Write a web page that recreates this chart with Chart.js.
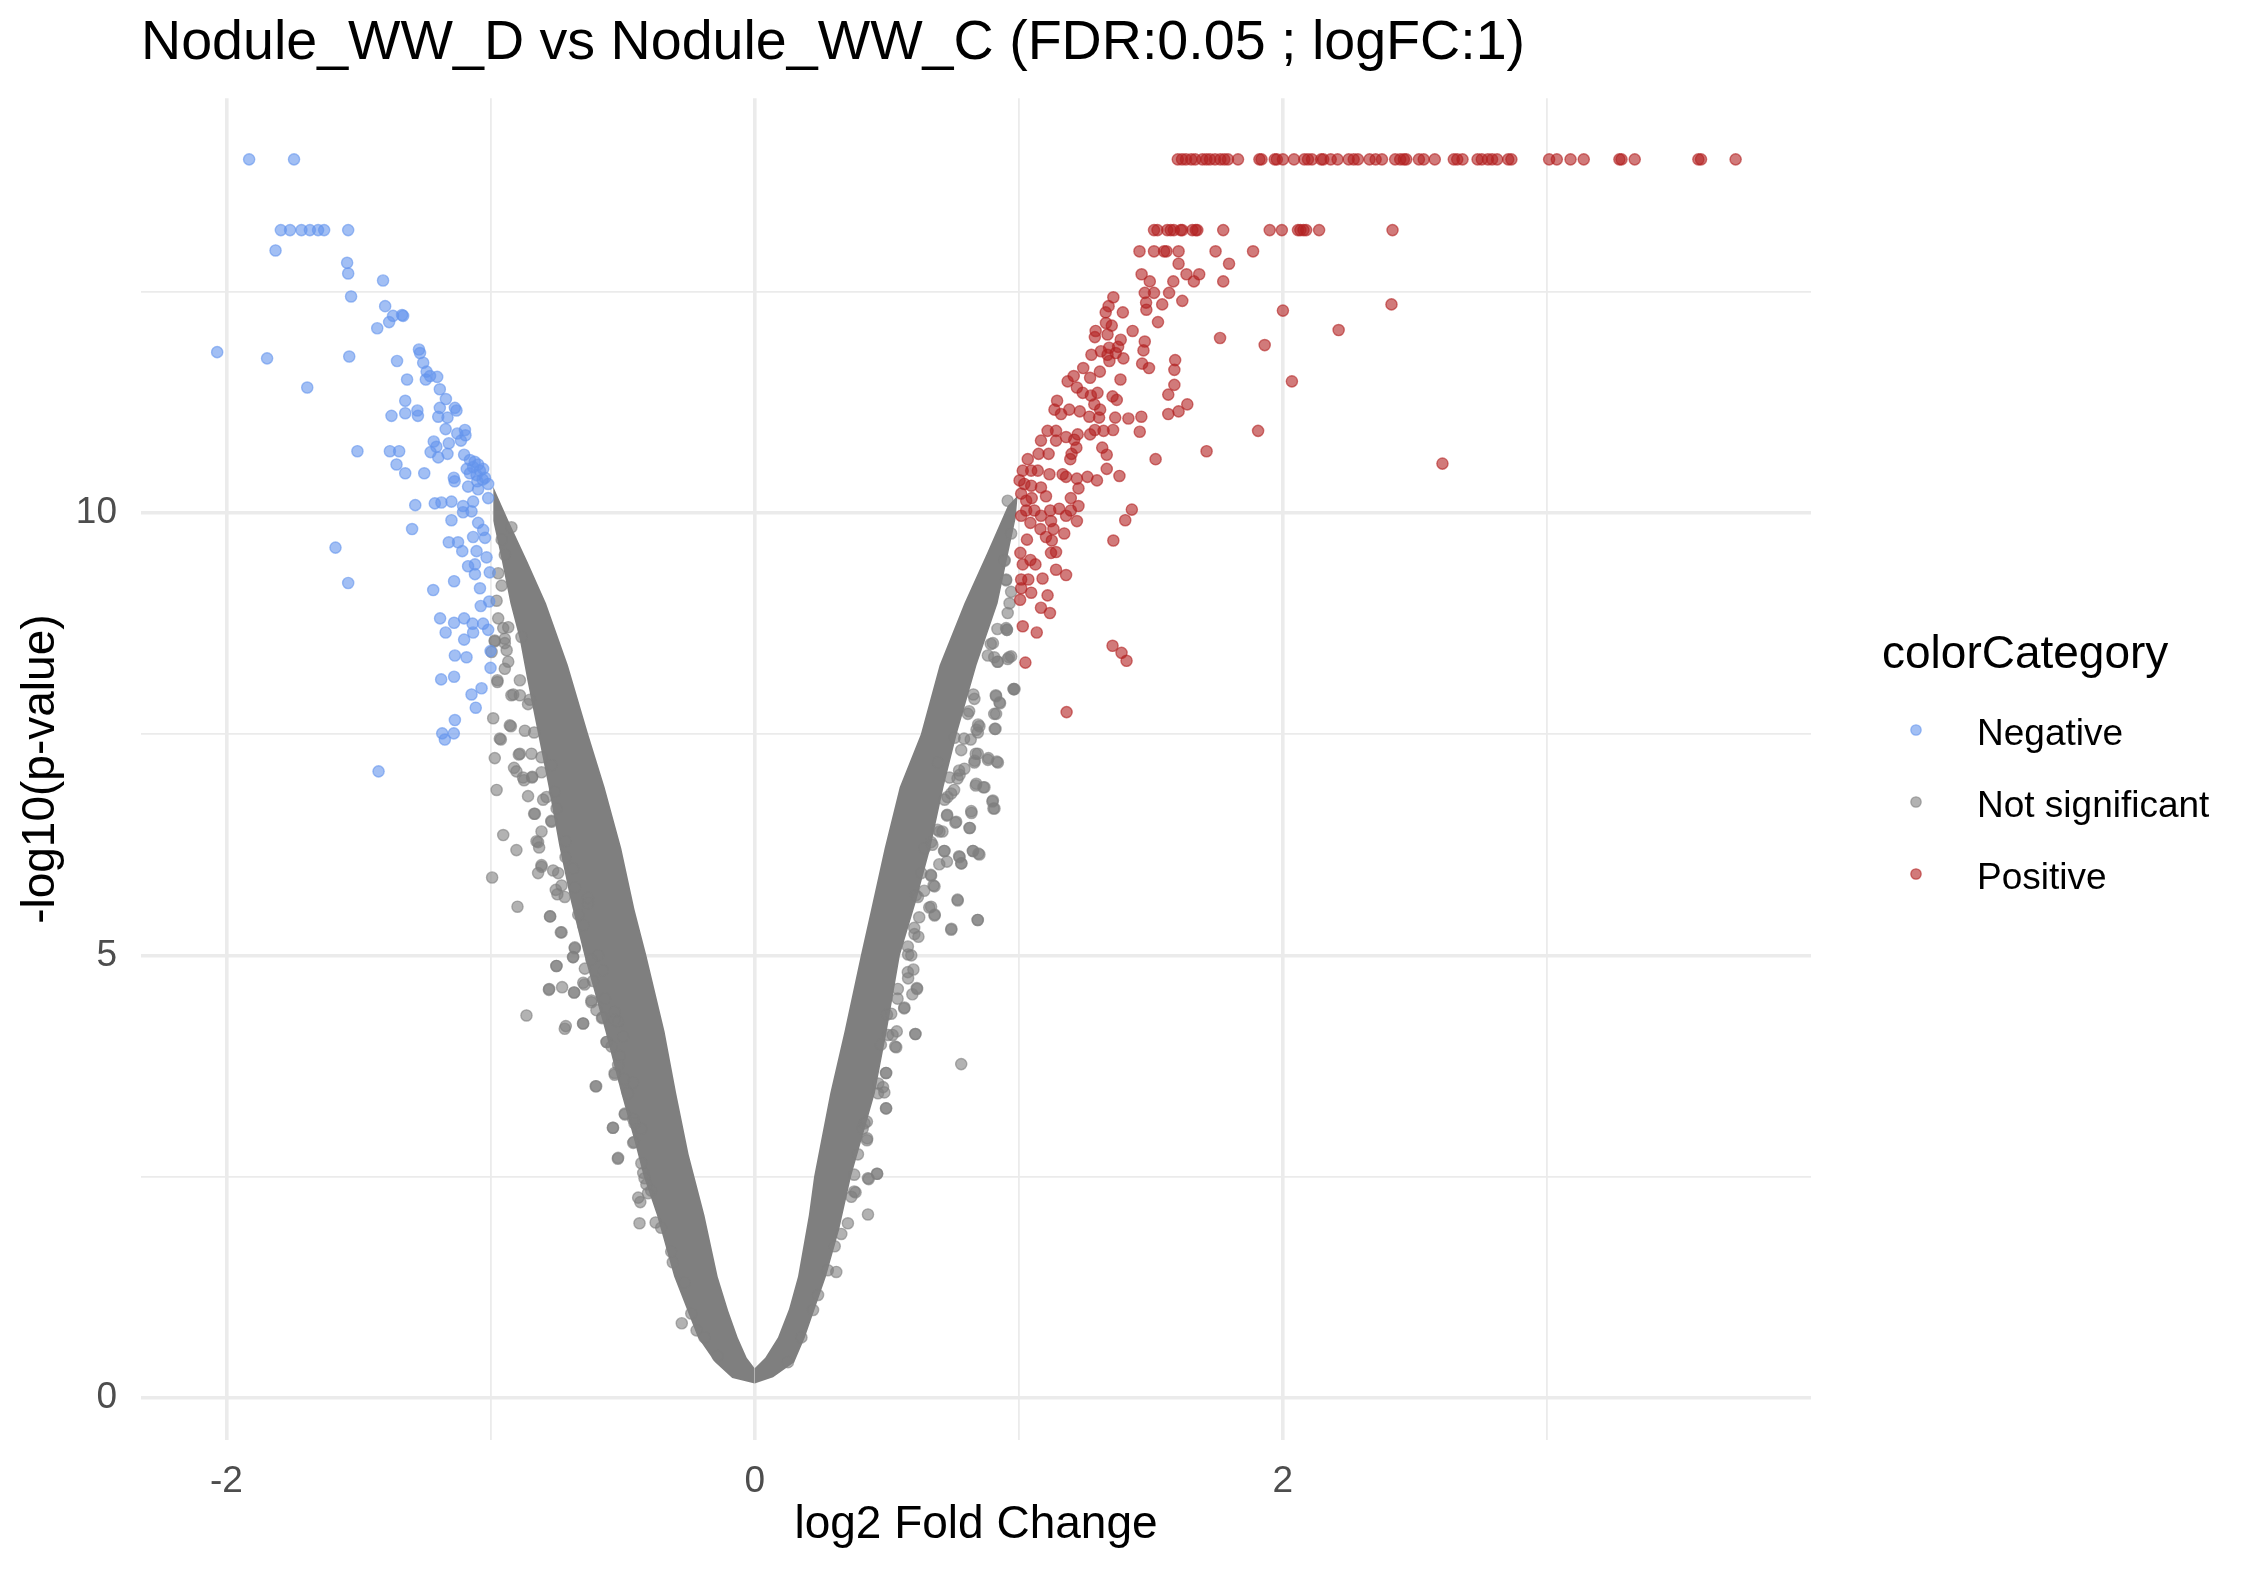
<!DOCTYPE html>
<html>
<head>
<meta charset="utf-8">
<script src="https://cdn.jsdelivr.net/npm/chart.js@4.4.1/dist/chart.umd.min.js"></script>
<style>
html,body{margin:0;padding:0;background:#ffffff;}
canvas{display:block;}
</style>
</head>
<body>
<canvas id="c" width="2250" height="1575"></canvas>
<script>
// ---------------- text ----------------
const titleText = 'Nodule_WW_D vs Nodule_WW_C (FDR:0.05 ; logFC:1)';
const xTitle = 'log2 Fold Change';
const yTitle = '-log10(p-value)';
const legendTitle = 'colorCategory';
const categories = ['Negative', 'Not significant', 'Positive'];

// ---------------- axes ----------------
const xLimits = [-2.3234, 3.9994];
const yLimits = [-0.48, 14.69];
const xMajorTicks = [-2, 0, 2];
const yMajorTicks = [0, 5, 10];

// ---------------- data: Negative (log2FC, -log10 p) ----------------
const negative = [
[-1.914,14.0],[-1.744,14.0],
[-1.794,13.2],[-1.759,13.2],[-1.716,13.2],[-1.684,13.2],[-1.653,13.2],[-1.630,13.2],[-1.539,13.2],
[-1.814,12.97],[-1.543,12.83],[-1.539,12.71],[-1.407,12.63],[-1.528,12.45],[-1.399,12.34],[-1.369,12.23],[-1.335,12.24],[-1.331,12.23],[-1.384,12.16],[-1.429,12.09],
[-2.035,11.82],[-1.846,11.75],[-1.535,11.77],[-1.694,11.42],
[-1.271,11.85],[-1.267,11.81],[-1.354,11.72],[-1.255,11.70],[-1.242,11.60],[-1.229,11.55],[-1.202,11.54],[-1.316,11.51],[-1.245,11.51],[-1.192,11.40],[-1.169,11.29],[-1.323,11.27],[-1.323,11.13],[-1.375,11.10],[-1.277,11.16],[-1.275,11.10],[-1.192,11.19],[-1.198,11.09],[-1.163,11.08],[-1.135,11.19],[-1.129,11.16],[-1.170,10.95],[-1.126,10.90],[-1.097,10.94],[-1.095,10.88],[-1.215,10.81],[-1.205,10.75],[-1.158,10.79],[-1.112,10.82],[-1.227,10.69],[-1.198,10.63],[-1.163,10.67],
[-1.504,10.70],[-1.381,10.70],[-1.346,10.70],[-1.356,10.55],[-1.323,10.45],[-1.251,10.45],
[-1.100,10.66],[-1.078,10.60],[-1.066,10.52],[-1.047,10.55],[-1.028,10.50],[-1.078,10.45],[-1.053,10.43],[-1.021,10.40],[-1.139,10.40],[-1.136,10.36],[-1.085,10.30],[-1.047,10.27],[-1.009,10.33],
[-1.060,10.58],[-1.040,10.48],[-1.030,10.38],[-1.050,10.36],[-1.090,10.50],
[-1.066,10.13],[-1.104,10.08],[-1.072,10.02],[-1.104,10.01],[-1.211,10.11],[-1.186,10.12],[-1.148,10.13],[-1.285,10.09],[-1.009,10.17],[-1.148,9.92],[-1.297,9.82],[-1.047,9.89],[-1.028,9.81],[-1.066,9.73],[-1.021,9.72],[-1.158,9.67],[-1.123,9.67],[-1.107,9.57],[-1.053,9.57],[-1.015,9.50],[-1.587,9.61],[-1.085,9.40],[-1.059,9.42],[-1.059,9.31],[-1.003,9.33],[-1.539,9.21],[-1.138,9.23],[-1.217,9.13],[-1.040,9.15],[-1.037,8.95],[-1.005,9.00],
[-1.191,8.81],[-1.170,8.65],[-1.138,8.76],[-1.100,8.81],[-1.068,8.75],[-1.066,8.65],[-1.028,8.75],[-1.009,8.68],[-1.100,8.57],[-1.135,8.39],[-1.091,8.37],[-1.000,8.44],[-1.000,8.25],[-1.187,8.12],[-1.138,8.15],[-1.034,8.02],[-1.072,7.95],[-1.056,7.80],[-1.135,7.66],[-1.183,7.51],[-1.173,7.44],[-1.139,7.51],[-1.424,7.08]
];

// ---------------- data: Positive ----------------
const positive = [
[1.602,14.0],[1.618,14.0],[1.633,14.0],[1.653,14.0],[1.668,14.0],[1.695,14.0],[1.710,14.0],[1.724,14.0],[1.743,14.0],[1.763,14.0],[1.778,14.0],[1.792,14.0],[1.830,14.0],[1.911,14.0],[1.919,14.0],[1.969,14.0],[1.977,14.0],[2.000,14.0],[2.042,14.0],[2.081,14.0],[2.095,14.0],[2.110,14.0],[2.145,14.0],[2.153,14.0],[2.181,14.0],[2.207,14.0],[2.249,14.0],[2.268,14.0],[2.284,14.0],[2.328,14.0],[2.351,14.0],[2.375,14.0],[2.425,14.0],[2.444,14.0],[2.458,14.0],[2.467,14.0],[2.515,14.0],[2.533,14.0],[2.575,14.0],[2.647,14.0],[2.660,14.0],[2.680,14.0],[2.737,14.0],[2.753,14.0],[2.776,14.0],[2.792,14.0],[2.811,14.0],[2.853,14.0],[2.865,14.0],[3.008,14.0],[3.037,14.0],[3.089,14.0],[3.139,14.0],[3.274,14.0],[3.282,14.0],[3.332,14.0],[3.573,14.0],[3.583,14.0],[3.714,14.0],
[1.512,13.2],[1.525,13.2],[1.562,13.2],[1.575,13.2],[1.587,13.2],[1.613,13.2],[1.619,13.2],[1.657,13.2],[1.670,13.2],[1.676,13.2],[1.774,13.2],[1.950,13.2],[1.996,13.2],[2.057,13.2],[2.066,13.2],[2.078,13.2],[2.088,13.2],[2.137,13.2],[2.415,13.2],
[1.457,12.96],[1.512,12.96],[1.550,12.96],[1.559,12.96],[1.605,12.96],[1.745,12.96],[1.887,12.96],
[1.605,12.82],[1.796,12.82],
[1.465,12.70],[1.496,12.62],[1.585,12.62],[1.635,12.70],[1.683,12.70],[1.663,12.62],[1.774,12.62],
[1.358,12.44],[1.477,12.49],[1.512,12.49],[1.569,12.49],
[1.619,12.40],[1.543,12.36],[1.483,12.30],[1.482,12.38],
[1.340,12.34],[1.329,12.27],[1.394,12.27],
[1.527,12.16],[1.330,12.15],[1.352,12.12],
[1.291,12.06],[1.431,12.06],[1.288,11.99],[1.336,12.02],
[2.000,12.29],[2.411,12.36],[2.211,12.07],
[1.762,11.98],[1.931,11.90],
[1.477,11.94],[1.472,11.84],
[1.386,11.96],[1.376,11.88],[1.342,11.87],[1.311,11.83],[1.275,11.79],[1.336,11.79],[1.367,11.81],[1.396,11.75],[1.343,11.72],
[1.467,11.69],[1.493,11.64],
[1.592,11.73],[1.589,11.62],[1.589,11.45],[1.566,11.34],[1.638,11.23],[1.605,11.15],[1.566,11.12],
[2.034,11.49],[1.385,11.51],
[1.244,11.64],[1.208,11.55],[1.185,11.49],[1.270,11.53],[1.307,11.60],[1.242,11.36],[1.220,11.42],[1.273,11.33],[1.298,11.36],[1.355,11.32],[1.371,11.28],[1.286,11.23],[1.308,11.17],[1.145,11.27],[1.135,11.17],[1.160,11.12],[1.191,11.17],[1.231,11.15],[1.267,11.09],[1.304,11.08],[1.365,11.08],[1.415,11.07],[1.464,11.09],[1.458,10.92],
[1.109,10.93],[1.141,10.93],[1.179,10.86],[1.223,10.89],[1.270,10.89],[1.288,10.94],[1.321,10.93],[1.357,10.94],
[1.084,10.82],[1.141,10.82],[1.210,10.83],[1.218,10.74],[1.200,10.67],[1.195,10.61],[1.113,10.67],[1.075,10.67],[1.034,10.61],
[1.316,10.74],[1.333,10.66],[1.333,10.50],[1.381,10.42],[1.518,10.61],[1.711,10.70],[1.906,10.93],[2.604,10.56],
[1.015,10.48],[1.047,10.48],[1.072,10.48],[1.116,10.44],[1.166,10.44],[1.179,10.41],[1.220,10.39],[1.260,10.41],[1.296,10.37],
[1.003,10.37],[1.021,10.33],[1.047,10.31],[1.084,10.29],[1.103,10.19],[1.226,10.28],[1.197,10.17],[1.226,10.08],
[1.009,10.22],[1.028,10.14],[1.049,10.17],[1.059,10.03],[1.028,10.03],[1.009,9.97],
[1.084,9.97],[1.119,10.03],[1.153,10.05],[1.179,9.97],[1.197,10.03],[1.220,9.91],[1.122,9.91],[1.044,9.89],
[1.428,10.04],[1.403,9.92],[1.358,9.69],
[1.082,9.82],[1.131,9.82],[1.172,9.77],[1.103,9.73],[1.125,9.69],
[1.031,9.70],[1.006,9.55],[1.122,9.55],[1.141,9.56],
[1.015,9.42],[1.044,9.47],[1.063,9.42],
[1.141,9.36],[1.179,9.30],
[1.009,9.25],[1.036,9.25],[1.090,9.26],
[1.009,9.15],[1.047,9.10],[1.109,9.07],
[1.005,9.02],[1.084,8.93],[1.118,8.87],
[1.015,8.72],[1.068,8.65],
[1.355,8.50],[1.389,8.42],[1.408,8.33],
[1.025,8.31],[1.181,7.75]
];

// ---------------- data: Not significant, left arm scattered genes ----------------
const notSignificantLeft = [
[-0.990,7.68],[-0.961,7.44],[-0.984,7.23],[-0.977,6.87],[-0.952,6.36],[-0.994,5.88],[-0.902,6.19],[-0.898,5.55],[-0.864,4.32],[-0.775,5.44],[-0.734,5.26],[-0.751,4.88],[-0.778,4.62],[-0.729,4.64],[-0.715,4.20],[-0.684,4.58],[-0.650,4.23],[-0.688,4.98],[-0.681,5.09],[-0.668,5.46],[-0.618,4.47],[-0.600,3.52],[-0.537,3.05],[-0.518,2.70],[-0.436,1.97],[-0.433,2.21],[-0.375,1.98],[-0.276,0.84],[-0.220,0.76],[-0.310,1.53],[-0.460,2.88],[-0.491,3.20],[-0.530,3.67],[-0.560,4.02],[-0.578,4.29],[-0.644,4.67],[-0.753,5.74],[-0.807,6.00],[-0.820,6.28],[-0.835,6.60],[-0.858,6.80],[-0.911,7.12],[-0.870,7.54],[-0.923,7.59],[-0.889,7.28],[-0.843,7.01],[-0.801,6.76],[-0.770,6.52],[-0.877,7.01],[-0.921,7.94],[-0.889,7.94],[-0.858,7.84],[-0.933,8.32],[-0.974,8.09],[-0.946,8.53],[-0.952,8.70],[-0.984,8.55],[-0.977,9.01],[-0.958,9.18],[-0.971,9.32],[-0.946,9.53],[-0.958,9.70],[-0.921,9.84],[-0.820,5.93],[-0.744,5.93],[-0.719,5.66],[-0.631,5.59],[-0.593,5.00],[-0.574,4.83],[-0.530,4.27],[-0.511,3.86],[-0.480,3.44],[-0.455,3.10],[-0.417,2.48],[-0.392,2.34],[-0.354,1.92],[-0.316,1.65],[-0.266,1.30],[-0.240,0.95],[-0.190,0.68],[-0.140,0.47],
[-0.971,8.81],[-0.933,8.71],[-0.946,8.58],[-0.883,8.60],[-0.984,8.56],[-0.996,8.43],[-0.939,8.45],[-0.946,8.24],[-0.974,8.11],[-0.889,8.11],[-0.914,7.95],[-0.851,7.89],[-0.927,7.60],[-0.835,7.52],[-0.965,7.45],[-0.893,7.27],[-0.845,7.28],[-0.902,7.08],[-0.873,6.98],[-0.842,7.02],[-0.807,7.24],[-0.807,7.07],[-0.769,7.15],[-0.788,6.79],[-0.757,6.85],[-0.832,6.60],[-0.769,6.51],[-0.807,6.40],[-0.750,6.66],[-0.826,6.29],[-0.816,6.22],[-0.807,6.02],[-0.763,5.96],[-0.716,6.29],[-0.716,6.11],[-0.687,5.98],[-0.731,5.79],[-0.747,5.69],[-0.681,5.77],[-0.631,5.65],[-0.774,5.44],[-0.731,5.26],[-0.649,5.34],[-0.681,5.08],[-0.687,4.98],[-0.750,4.88],[-0.643,4.85],[-0.618,4.95],[-0.612,4.71],[-0.779,4.61],[-0.683,4.58],[-0.649,4.69],[-0.618,4.49],[-0.599,4.38],[-0.576,4.30],[-0.567,4.51],[-0.530,4.36],[-0.517,4.25],[-0.719,4.17],[-0.649,4.23],[-0.561,4.02],[-0.542,3.97],[-0.498,4.08],[-0.517,3.76],[-0.530,3.65],[-0.494,3.60],[-0.460,3.56],[-0.602,3.52],[-0.492,3.21],[-0.460,3.15],[-0.536,3.05],[-0.457,2.89],[-0.429,3.04],[-0.517,2.71],[-0.429,2.65],[-0.422,2.54],[-0.410,2.41],[-0.441,2.26],[-0.404,2.31]
];

// ---------------- data: Not significant, right arm scattered genes ----------------
const notSignificantRight = [
[0.782,3.77],[0.429,2.07],[0.464,2.53],[0.429,2.48],[0.353,1.97],[0.309,1.42],[0.382,2.32],[0.498,3.27],[0.498,3.67],[0.426,2.93],[0.536,3.96],[0.609,4.11],[0.567,4.41],[0.615,4.62],[0.580,4.81],[0.593,5.00],[0.744,5.29],[0.845,5.40],[0.769,5.62],[0.681,5.45],[0.668,5.55],[0.681,5.78],[0.668,5.90],[0.719,6.18],[0.782,6.04],[0.826,6.18],[0.851,6.14],[0.776,6.11],[0.813,6.44],[0.763,6.51],[0.729,6.59],[0.700,6.40],[0.668,6.28],[0.820,6.63],[0.908,6.66],[0.902,6.75],[0.870,6.90],[0.839,6.94],[0.921,7.18],[0.883,7.21],[0.845,7.28],[0.832,7.18],[0.776,7.04],[0.744,6.83],[0.719,6.76],[0.912,7.56],[0.851,7.59],[0.845,7.52],[0.914,7.73],[0.914,7.93],[0.927,7.86],[0.984,8.01],[0.958,8.35],[0.921,8.32],[0.883,8.39],[0.902,8.53],[0.952,8.70],[0.958,8.87],[0.952,9.25],[0.971,9.11],[0.946,9.46],[0.807,7.73],[0.832,7.90],[0.782,7.32],[0.757,7.46],[0.794,7.11],[0.738,7.01],[0.694,7.18],[0.643,6.21],[0.631,5.93],[0.618,5.66],[0.605,5.24],[0.580,5.10],[0.542,4.62],[0.517,4.34],[0.505,4.10],[0.486,3.51],[0.467,3.44],[0.416,3.10],[0.391,2.75],[0.366,2.27],[0.328,1.85],[0.303,1.71],[0.277,1.44],[0.240,1.16],[0.221,0.99],[0.177,0.68],[0.126,0.40],
[0.958,10.14],[0.971,9.77],[0.946,9.47],[0.952,9.24],[0.965,8.98],[0.955,8.68],[0.971,8.38],[0.981,8.01],
[0.955,8.68],[0.919,8.69],[0.894,8.52],[0.907,8.37],[0.919,8.32],[0.963,8.37],[0.980,8.01],[0.913,7.94],[0.929,7.85],[0.907,7.73],[0.909,7.56],[0.828,7.95],[0.812,7.76],[0.846,7.61],[0.840,7.55],[0.793,7.45],[0.818,7.44],[0.837,7.28],[0.833,7.20],[0.885,7.23],[0.917,7.19],[0.774,7.09],[0.768,7.00],[0.755,6.87],[0.730,6.79],[0.837,6.92],[0.866,6.90],[0.900,6.74],[0.904,6.66],[0.821,6.61],[0.728,6.58],[0.760,6.50],[0.815,6.44],[0.692,6.42],[0.711,6.40],[0.673,6.25],[0.717,6.18],[0.774,6.12],[0.783,6.04],[0.827,6.18],[0.847,6.15],[0.728,6.06],[0.699,6.03],[0.667,5.91],[0.677,5.79],[0.642,5.73],[0.610,5.68],[0.768,5.63],[0.661,5.54],[0.682,5.46],[0.623,5.43],[0.620,5.21],[0.604,5.31],[0.844,5.40],[0.745,5.30],[0.581,5.01],[0.601,4.84],[0.581,4.74],[0.614,4.63],[0.597,4.56],[0.566,4.40],[0.541,4.51],[0.501,4.33],[0.538,4.14],[0.608,4.11],[0.532,3.97],[0.522,4.10],[0.478,3.99],[0.497,3.67],[0.491,3.45],[0.468,3.55],[0.497,3.27],[0.425,3.12],[0.409,3.04],[0.425,2.91],[0.463,2.53],[0.432,2.47],[0.377,2.52],[0.377,2.33]
];

// ---------------- data: dense Not significant core (edges of the V) ----------------
const coreLeftUpper = [
[-0.99,10.3],[-0.93,9.9],[-0.86,9.45],[-0.79,8.98],[-0.707,8.28],[-0.63,7.5],[-0.568,6.9],[-0.505,6.21],[-0.455,5.52],[-0.41,5.0],[-0.341,4.14],[-0.297,3.44],[-0.25,2.75],[-0.19,2.06],[-0.14,1.37],[-0.1,0.98],[-0.064,0.68],[-0.03,0.45],[0,0.33]
];
const coreLeftLower = [
[-1.0,10.05],[-0.96,9.5],[-0.925,8.98],[-0.89,8.58],[-0.86,8.1],[-0.82,7.5],[-0.78,6.9],[-0.74,6.24],[-0.695,5.6],[-0.645,5.0],[-0.565,4.14],[-0.505,3.44],[-0.455,2.9],[-0.42,2.5],[-0.37,2.06],[-0.305,1.37],[-0.215,0.68],[-0.15,0.40],[-0.085,0.22],[0,0.16]
];
const coreRightUpper = [
[0,0.33],[0.04,0.45],[0.088,0.68],[0.13,1.0],[0.164,1.37],[0.205,2.06],[0.225,2.5],[0.286,3.44],[0.34,4.14],[0.402,5.0],[0.441,5.52],[0.492,6.21],[0.549,6.9],[0.629,7.5],[0.70,8.28],[0.794,8.98],[0.88,9.55],[0.958,10.08],[0.996,10.2]
];
const coreRightLower = [
[0,0.16],[0.07,0.23],[0.15,0.40],[0.19,0.68],[0.27,1.37],[0.32,1.9],[0.365,2.5],[0.455,3.44],[0.50,4.14],[0.55,5.0],[0.61,5.6],[0.665,6.21],[0.715,6.9],[0.765,7.5],[0.84,8.28],[0.92,8.98],[0.988,9.94],[0.996,10.2]
];

// ---------------- style ----------------
const FONT = "'Liberation Sans', Arial, sans-serif";
const negColor = 'rgba(100,149,237,0.6)';
const nsColor = 'rgba(127,127,127,0.6)';
const posColor = 'rgba(178,34,34,0.6)';
const coreColor = '#7f7f7f';
const gridColor = '#ebebeb';

const toXY = a => a.map(p => ({x: p[0], y: p[1]}));

function coreSet(label, data, fill) {
  return {type: 'line', label, data: toXY(data), borderWidth: 0, pointRadius: 0,
          pointHoverRadius: 0, fill, backgroundColor: coreColor, borderColor: coreColor,
          tension: 0, order: 10};
}
function pointSet(label, data, color, order) {
  return {type: 'scatter', label, data: toXY(data), backgroundColor: color, borderColor: color,
          borderWidth: 1.4, pointRadius: 5.6, pointHoverRadius: 5.6, order};
}

const legendPlugin = {
  id: 'ggLegend',
  afterDraw(chart) {
    const ctx = chart.ctx;
    const colors = [negColor, nsColor, posColor];
    const x0 = chart.chartArea.right + 71;
    ctx.save();
    ctx.textAlign = 'left';
    ctx.textBaseline = 'alphabetic';
    ctx.fillStyle = '#000000';
    ctx.font = '46px ' + FONT;
    ctx.fillText(legendTitle, x0, 668);
    ctx.font = '37px ' + FONT;
    categories.forEach((name, i) => {
      const cy = 730 + i * 72;
      ctx.beginPath();
      ctx.arc(x0 + 34, cy, 5.2, 0, Math.PI * 2);
      ctx.fillStyle = colors[i];
      ctx.fill();
      ctx.lineWidth = 1.3;
      ctx.strokeStyle = colors[i];
      ctx.stroke();
      ctx.fillStyle = '#000000';
      ctx.fillText(name, x0 + 95, cy + 14.7);
    });
    ctx.restore();
  }
};

new Chart(document.getElementById('c'), {
  type: 'scatter',
  data: {
    datasets: [
      coreSet('coreLeftUpper', coreLeftUpper, '+1'),
      coreSet('coreLeftLower', coreLeftLower, false),
      coreSet('coreRightUpper', coreRightUpper, '+1'),
      coreSet('coreRightLower', coreRightLower, false),
      pointSet(categories[1], notSignificantLeft, nsColor, 5),
      pointSet(categories[1], notSignificantRight, nsColor, 5),
      pointSet(categories[0], negative, negColor, 2),
      pointSet(categories[2], positive, posColor, 1)
    ]
  },
  options: {
    responsive: false,
    devicePixelRatio: 1,
    animation: false,
    events: [],
    layout: {padding: {left: 0, top: 0, right: 439, bottom: 0}},
    plugins: {
      legend: {display: false},
      tooltip: {enabled: false},
      title: {
        display: true, text: titleText, align: 'start', fullSize: false, color: '#000000',
        font: {family: FONT, size: 55.6, weight: 'normal', lineHeight: 1.2},
        padding: {top: 10.6, bottom: 21}
      }
    },
    scales: {
      x: {
        type: 'linear', min: xLimits[0], max: xLimits[1],
        afterFit: s => { s.height = 135; },
        border: {display: false},
        grid: {
          drawTicks: false, color: gridColor,
          lineWidth: c => (c.tick && xMajorTicks.includes(c.tick.value)) ? 3.6 : 1.8
        },
        ticks: {
          stepSize: 1, includeBounds: false, autoSkip: false, maxRotation: 0,
          padding: 19.5, color: '#4d4d4d', font: {family: FONT, size: 37},
          callback: v => xMajorTicks.includes(v) ? String(v) : ''
        },
        title: {display: true, text: xTitle, color: '#000000',
                font: {family: FONT, size: 46}, padding: {top: 0, bottom: 21.6}}
      },
      y: {
        type: 'linear', min: yLimits[0], max: yLimits[1],
        afterFit: s => { s.width = 141; },
        border: {display: false},
        grid: {
          drawTicks: false, color: gridColor,
          lineWidth: c => (c.tick && yMajorTicks.includes(c.tick.value)) ? 3.6 : 1.8
        },
        ticks: {
          stepSize: 2.5, includeBounds: false, autoSkip: false,
          padding: 24, color: '#4d4d4d', font: {family: FONT, size: 37},
          callback: v => yMajorTicks.includes(v) ? String(v) : ''
        },
        title: {display: true, text: yTitle, color: '#000000',
                font: {family: FONT, size: 46}, padding: {top: 14, bottom: 0}}
      }
    }
  },
  plugins: [legendPlugin]
});
</script>
</body>
</html>
